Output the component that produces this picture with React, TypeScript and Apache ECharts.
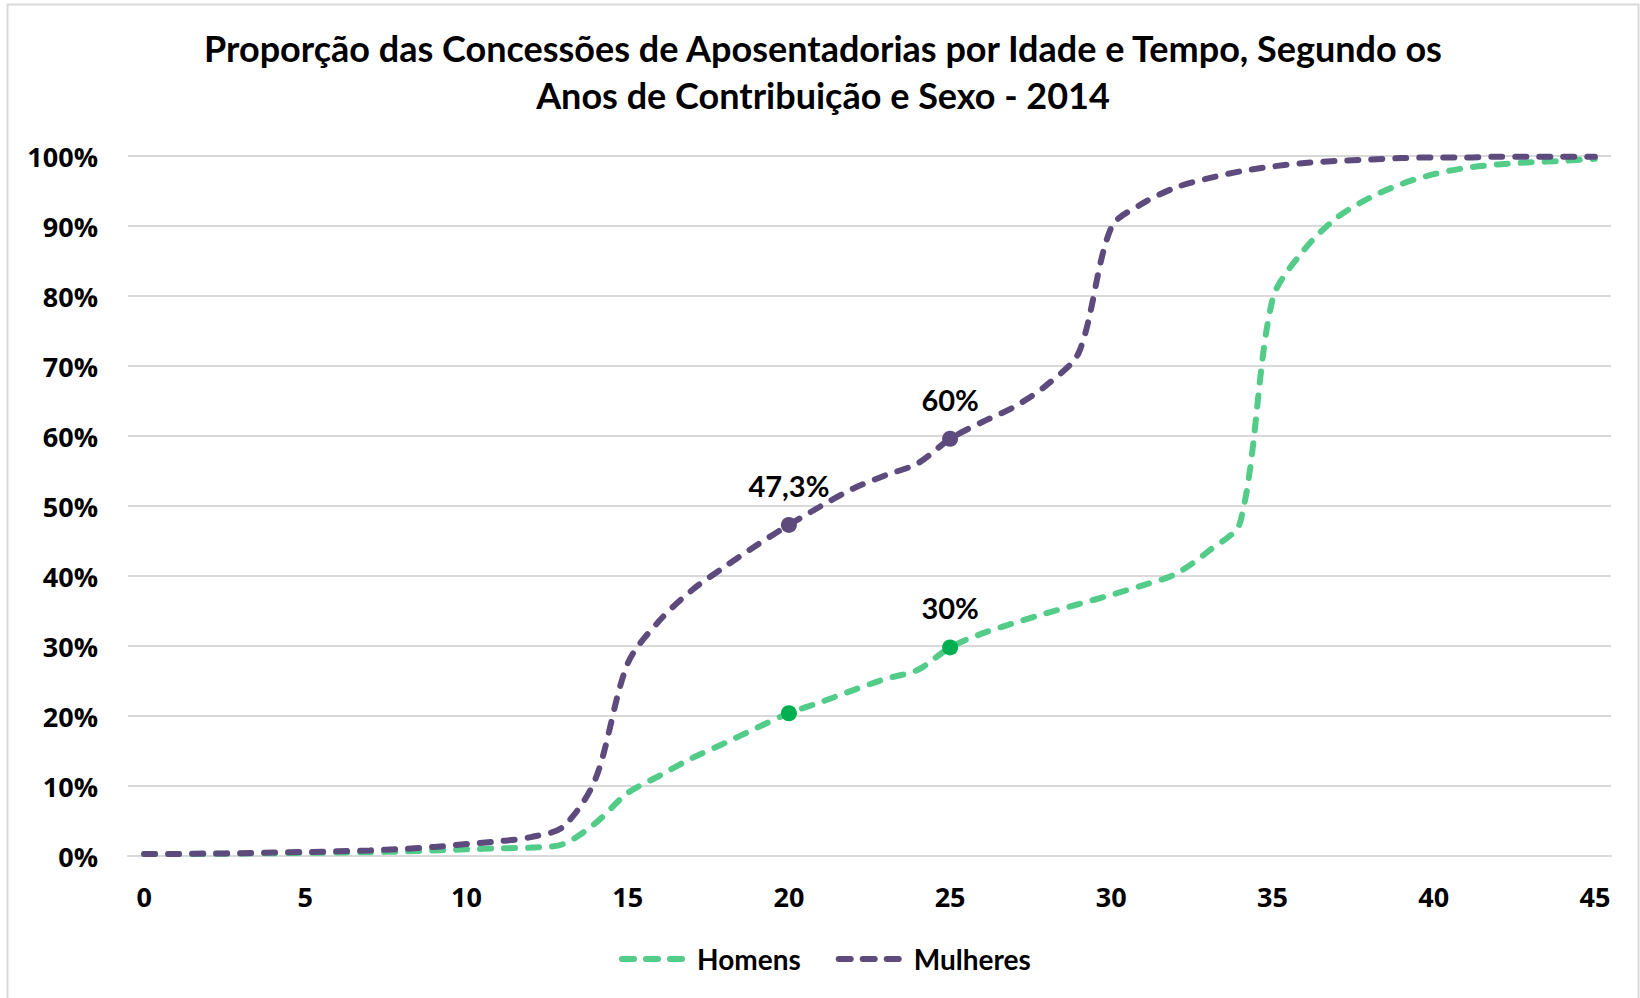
import React, { useEffect, useRef } from "react";
import * as echarts from "echarts";

const categories: string[] = Array.from({ length: 46 }, (_, i) => String(i));

const homens: number[] = [
  0.3, 0.3, 0.3, 0.35, 0.4, 0.45, 0.5, 0.55, 0.65, 0.8,
  0.95, 1.1, 1.2, 1.7, 4.7, 9.0, 11.5, 14.0, 16.1, 18.3,
  20.4, 22.0, 23.7, 25.3, 26.6, 29.8, 31.8, 33.3, 34.7, 36.0,
  37.3, 38.7, 40.3, 43.5, 47.7, 79.5, 86.7, 91.2, 94.0, 96.0,
  97.4, 98.3, 98.8, 99.1, 99.3, 99.6,
];

const mulheres: number[] = [
  0.3, 0.3, 0.35, 0.4, 0.5, 0.57, 0.67, 0.8, 1.0, 1.3,
  1.7, 2.1, 2.7, 4.2, 11.0, 27.5, 33.7, 38.0, 41.3, 44.4,
  47.3, 50.0, 52.5, 54.4, 56.1, 59.6, 62.0, 64.2, 67.3, 72.0,
  89.8, 93.3, 95.5, 96.8, 97.8, 98.5, 99.0, 99.3, 99.5, 99.7,
  99.8, 99.8, 99.9, 99.9, 99.9, 99.9,
];

const homensLabels: Record<number, string> = { 25: "30%" };
const mulheresLabels: Record<number, string> = { 20: "47,3%", 25: "60%" };
const homensMarkers: number[] = [20, 25];
const mulheresMarkers: number[] = [20, 25];

const yTicks = { min: 0, max: 100, interval: 10 };

const GREEN_LINE = "#52CC88";
const GREEN_DOT = "#00B050";
const PURPLE = "#5E4B7E";

const DASH_ICON =
  "path://M3,0H15A3,3,0,0,1,15,6H3A3,3,0,0,1,3,0Z" +
  "M27,0H39A3,3,0,0,1,39,6H27A3,3,0,0,1,27,0Z" +
  "M51,0H63A3,3,0,0,1,63,6H51A3,3,0,0,1,51,0Z";

function buildData(
  values: number[],
  markers: number[],
  labels: Record<number, string>,
  dotColor: string
) {
  return values.map((v, i) => {
    if (markers.indexOf(i) >= 0) {
      const item: any = {
        value: v,
        symbol: "circle",
        symbolSize: 16,
        itemStyle: { color: dotColor },
      };
      if (labels[i]) {
        item.label = {
          show: true,
          position: "top",
          distance: 17,
          formatter: labels[i],
          fontFamily: "Lato",
          fontWeight: "bold",
          fontSize: 29,
          color: "#000",
        };
      }
      return item;
    }
    return v;
  });
}

export default function App() {
  const ref = useRef<HTMLDivElement>(null);

  useEffect(() => {
    document.body.style.margin = "0";
    if (!ref.current) return;
    const chart = echarts.init(ref.current, undefined, { renderer: "svg" });
    chart.setOption({
      animation: false,
      backgroundColor: "#fff",
      title: {
        text:
          "Proporção das Concessões de Aposentadorias por Idade e Tempo, Segundo os\nAnos de Contribuição e Sexo - 2014",
        left: 823,
        top: 24,
        padding: 0,
        textAlign: "center",
        textStyle: {
          fontFamily: "Lato",
          fontWeight: "bold",
          fontSize: 36,
          lineHeight: 47,
          color: "#000",
          align: "center",
        },
      },
      graphic: [
        {
          type: "rect",
          shape: { x: 7.5, y: 4.5, width: 1631, height: 1000 },
          style: { fill: "none", stroke: "#d9d9d9", lineWidth: 2 },
          silent: true,
        },
      ],
      legend: {
        data: [
          { name: "Homens", icon: DASH_ICON },
          { name: "Mulheres", icon: DASH_ICON },
        ],
        top: 940,
        left: 614,
        itemWidth: 66,
        itemHeight: 6,
        itemGap: 35,
        itemStyle: { borderWidth: 0 },
        textStyle: {
          fontFamily: "Lato",
          fontWeight: "bold",
          fontSize: 28,
          color: "#000",
          padding: [0, 0, 0, 7],
        },
      },
      grid: { left: 128, right: 29, top: 156, bottom: 142, containLabel: false },
      xAxis: {
        type: "category",
        data: categories,
        boundaryGap: true,
        axisTick: { show: false },
        axisLine: { lineStyle: { color: "#d9d9d9", width: 2 } },
        axisLabel: {
          interval: 4,
          margin: 27,
          fontFamily: "Open Sans",
          fontWeight: "bold",
          fontSize: 27,
          color: "#000",
        },
      },
      yAxis: {
        type: "value",
        min: yTicks.min,
        max: yTicks.max,
        interval: yTicks.interval,
        axisLine: { show: false },
        axisTick: { show: false },
        splitLine: { lineStyle: { color: "#d9d9d9", width: 2 } },
        axisLabel: {
          formatter: "{value}%",
          margin: 30,
          fontFamily: "Open Sans",
          fontWeight: "bold",
          fontSize: 27,
          color: "#000",
        },
      },
      series: [
        {
          name: "Homens",
          type: "line",
          smooth: 0.3,
          symbol: "none",
          color: GREEN_LINE,
          lineStyle: {
            color: GREEN_LINE,
            width: 6,
            type: [11, 13],
            cap: "round",
          },
          data: buildData(homens, homensMarkers, homensLabels, GREEN_DOT),
          z: 2,
        },
        {
          name: "Mulheres",
          type: "line",
          smooth: 0.3,
          symbol: "none",
          color: PURPLE,
          lineStyle: {
            color: PURPLE,
            width: 6,
            type: [11, 13],
            cap: "round",
          },
          data: buildData(mulheres, mulheresMarkers, mulheresLabels, PURPLE),
          z: 3,
        },
      ],
    });
    return () => chart.dispose();
  }, []);

  return (
    <div
      ref={ref}
      style={{ position: "fixed", left: 0, top: 0, width: 1640, height: 998 }}
    />
  );
}
